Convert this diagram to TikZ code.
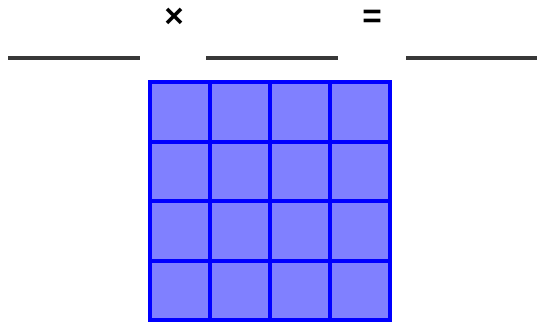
\documentclass[tikz,border=0pt]{standalone}
\usepackage{fontspec}
\setmainfont{Liberation Sans}
\begin{document}
\begin{tikzpicture}[x=0.75pt,y=-0.75pt,
	blank/.style={ draw=black!78, line width=3pt },
	cell/.style={ draw=blue, fill={rgb,255:red,128;green,128;blue,255}, line width=3pt },
	sign/.style={ font=\fontsize{25}{27}\selectfont\bfseries, inner sep=0pt }
]
\useasboundingbox (0,0) rectangle (537,323);

% the equation: blank x blank = blank
\foreach \x/\n in {8/first,206/second,406/result}
	\draw[blank] (\x,58.5) coordinate (\n) -- ++(132,0);
\node[sign] (times) at (174,18) {×};
\node[sign] (equals) at (372,18.5) {=};

% 4 by 4 grid
\foreach \i in {0,...,3}
	\foreach \j in {0,...,3}
		\draw[cell] (150+60*\i,82.5+59.5*\j) rectangle ++(60,59.5);

\end{tikzpicture}
\end{document}
